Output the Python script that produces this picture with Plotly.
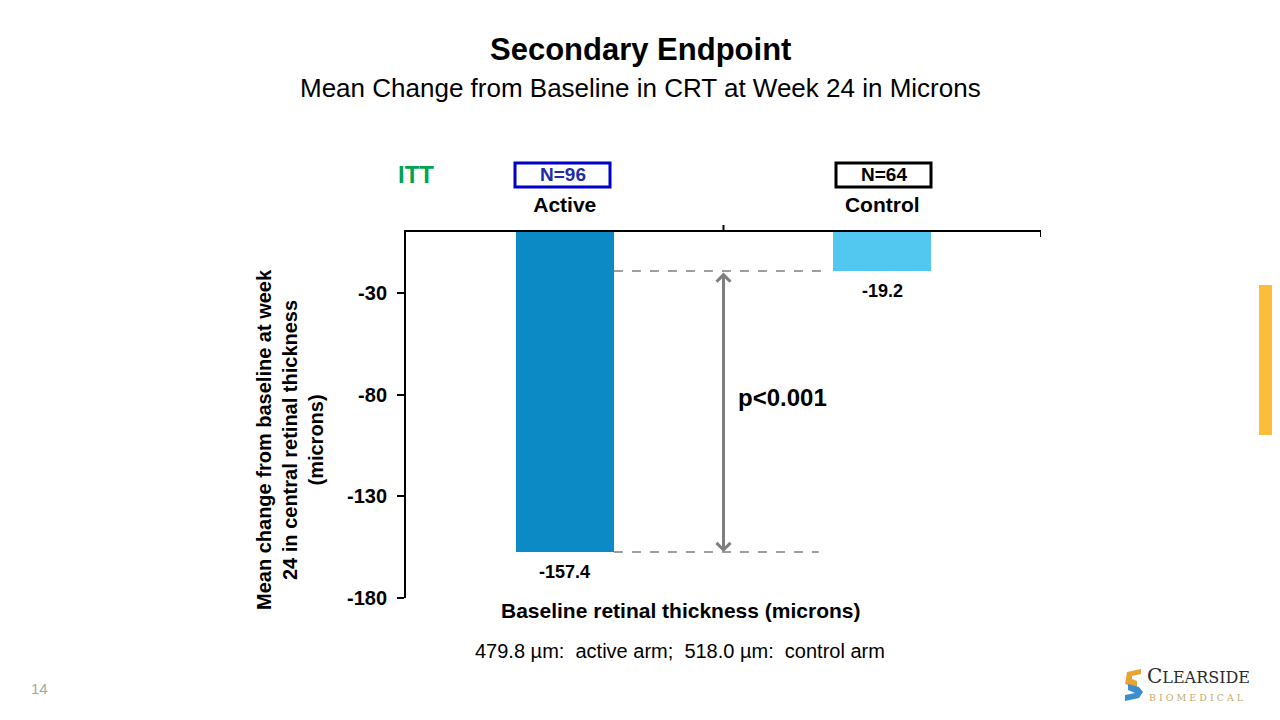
import plotly.graph_objects as go

categories = ["Active", "Control"]
values = [-157.4, -19.2]
n_labels = ["N=96", "N=64"]
bar_colors = ["#0B8AC6", "#52C7F0"]
box_colors = ["#0000C8", "#000000"]
box_text_colors = ["#1F2CA8", "#000000"]
y_ticks = [-30, -80, -130, -180]
y_tick_text = ["-30", "-80", "-130", "-180"]
p_text = "p<0.001"
footnote = "479.8 µm:  active arm;  518.0 µm:  control arm"

FONT = "Liberation Sans, Arial, sans-serif"
SERIF = "DejaVu Serif, Liberation Serif, serif"
OFF = 8  # default page body margin
# plot area in screen pixels
PX0, PX1, PY0, PY1 = 406, 1041, 232, 598
W, H = 1280 - OFF, 720 - OFF
L, T = PX0 - OFF, PY0 - OFF
R, B = 1280 - PX1, 720 - PY1
PW, PH = PX1 - PX0, PY1 - PY0


def px(x):
    return (x - PX0) / PW


def py(y):
    return (PY1 - y) / PH


def label(x, y, text, size, color="black", bold=False, family=FONT, **kw):
    d = dict(x=px(x), y=py(y), xref="paper", yref="paper", showarrow=False, text=text,
             xanchor="center", yanchor="middle",
             font=dict(family=family, size=size, color=color, weight="bold" if bold else "normal"))
    d.update(kw)
    return d


bar_w = 0.31

fig = go.Figure()
fig.add_trace(go.Bar(
    x=categories, y=values, width=bar_w,
    marker=dict(color=bar_colors, line=dict(width=0)),
    hoverinfo="skip",
))

shapes = []
annotations = []

# category divider tick on the top axis, and small end tick
shapes.append(dict(type="line", xref="x", yref="paper", x0=0.5, x1=0.5, y0=1, y1=1 + 7 / PH,
                   line=dict(color="black", width=2)))
shapes.append(dict(type="line", xref="x", yref="paper", x0=1.5, x1=1.5, y0=1, y1=1 - 5 / PH,
                   line=dict(color="black", width=2)))

# value labels under bars
for c, v in zip(categories, values):
    annotations.append(dict(x=c, y=v, xref="x", yref="y", text=f"{v}", showarrow=False,
                            xanchor="center", yanchor="top", yshift=-8,
                            font=dict(family=FONT, size=18, color="black", weight="bold")))

# dashed reference lines
shapes.append(dict(type="line", xref="x", yref="y", x0=bar_w / 2, x1=1 - bar_w / 2 - 0.01,
                   y0=values[1], y1=values[1], line=dict(color="#7F7F7F", width=1.5, dash="dash")))
shapes.append(dict(type="line", xref="x", yref="y", x0=bar_w / 2, x1=0.8,
                   y0=values[0], y1=values[0], line=dict(color="#7F7F7F", width=1.5, dash="dash")))

# double-headed arrow
annotations.append(dict(x=0.5, y=values[0], ax=0.5, ay=values[1], xref="x", yref="y",
                        axref="x", ayref="y", showarrow=True, arrowhead=4, startarrowhead=4,
                        arrowside="end+start", arrowsize=0.9, startarrowsize=0.9, arrowwidth=3,
                        arrowcolor="#7F7F7F", text=""))
annotations.append(dict(x=0.54, y=(values[0] + values[1]) / 2 + 7, xref="x", yref="y",
                        text=p_text, showarrow=False, xanchor="left", yanchor="middle",
                        font=dict(family=FONT, size=24, color="black", weight="bold")))

# titles
annotations.append(label(640, 49, "Secondary Endpoint", 31, bold=True))
annotations.append(label(640, 88, "Mean Change from Baseline in CRT at Week 24 in Microns", 26))

# ITT and N boxes
annotations.append(label(416, 175, "ITT", 24, color="#00A550", bold=True))
box_x = [(515, 610), (836, 931)]
for (x0, x1), lab, bc, tc in zip(box_x, n_labels, box_colors, box_text_colors):
    shapes.append(dict(type="rect", xref="paper", yref="paper", x0=px(x0), x1=px(x1),
                       y0=py(187), y1=py(163), line=dict(color=bc, width=3)))
    annotations.append(label((x0 + x1) / 2, 175, lab, 19, color=tc, bold=True))

# axis titles
annotations.append(label(290, 440,
                         "Mean change from baseline at week<br>24 in central retinal thickness<br>(microns)",
                         20, bold=True, textangle=-90))
annotations.append(label(680, 610, "Baseline retinal thickness (microns)", 21, bold=True))
annotations.append(label(680, 651, footnote, 20))

# page number
annotations.append(label(39, 688, "14", 15, color="#A6A6A6"))

# yellow side tab
shapes.append(dict(type="rect", xref="paper", yref="paper", x0=px(1259), x1=px(1282),
                   y0=py(435), y1=py(285), fillcolor="#FBBD3B", line=dict(width=0), layer="above"))

# logo
shapes.append(dict(type="path", xref="paper", yref="paper",
                   path=f"M {px(1141)},{py(669)} L {px(1127)},{py(672)} L {px(1125)},{py(684)} L {px(1137)},{py(688)} L {px(1137)},{py(681)} L {px(1132)},{py(679)} L {px(1132)},{py(676)} L {px(1141)},{py(674)} Z",
                   fillcolor="#E8A534", line=dict(width=0)))
shapes.append(dict(type="path", xref="paper", yref="paper",
                   path=f"M {px(1128)},{py(684)} L {px(1139)},{py(687)} L {px(1143)},{py(692)} L {px(1139)},{py(698)} L {px(1125)},{py(701)} L {px(1125)},{py(695)} L {px(1135)},{py(693)} L {px(1128)},{py(690)} Z",
                   fillcolor="#3B8ED0", line=dict(width=0)))
annotations.append(label(1145, 676, "C<span style='font-size:16px'>LEARSIDE</span>", 20,
                         color="#2B2B2B", family=SERIF, xanchor="left"))
annotations.append(label(1147, 697, "B I O M E D I C A L", 9.5, color="#C8A96B",
                         family=SERIF, xanchor="left"))

fig.update_layout(
    width=W, height=H, margin=dict(l=L, r=R, t=T, b=B, autoexpand=False),
    paper_bgcolor="white", plot_bgcolor="white",
    showlegend=False, bargap=0,
    font=dict(family=FONT, color="black"),
    shapes=shapes, annotations=annotations,
    xaxis=dict(side="top", type="category", showline=True, linecolor="black", linewidth=2,
               ticks="", ticklen=7,
               ticklabelstandoff=10, showgrid=False, zeroline=False, range=[-0.5, 1.5],
               tickfont=dict(family=FONT, size=21, color="black", weight="bold")),
    yaxis=dict(range=[-180, 0], tickmode="array", tickvals=y_ticks, ticktext=y_tick_text,
               showline=True, linecolor="black", linewidth=2,
               ticks="outside", ticklen=7, tickwidth=2, tickcolor="black", showgrid=False,
               zeroline=False, ticklabelstandoff=6,
               tickfont=dict(family=FONT, size=20, color="black", weight="bold")),
)

fig.write_html("out.html")
